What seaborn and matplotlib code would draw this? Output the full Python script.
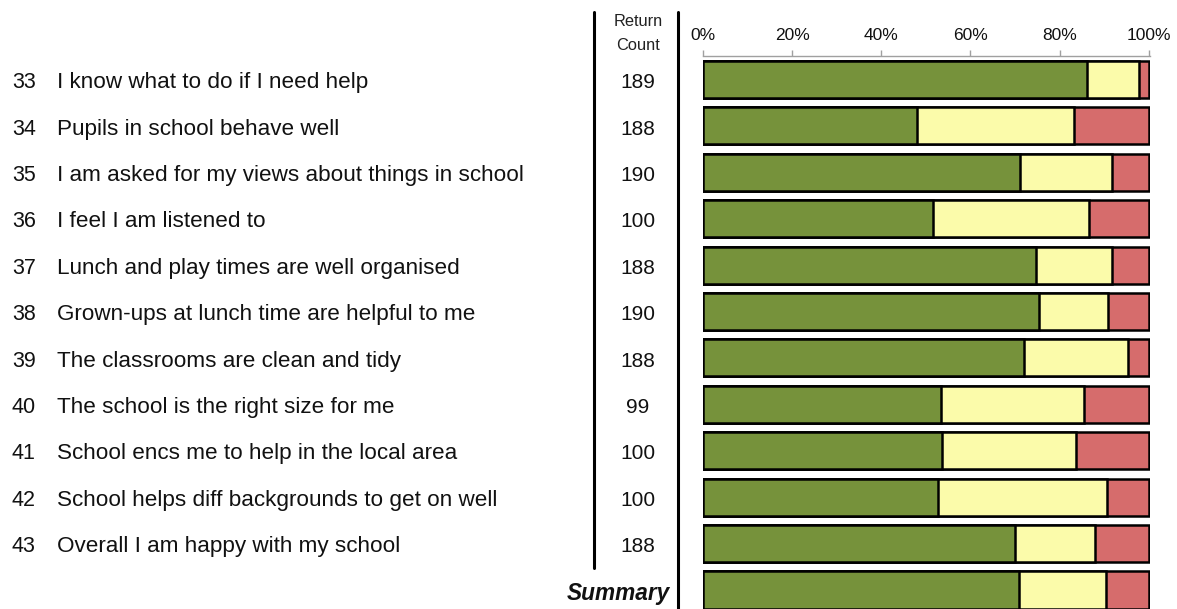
import matplotlib
matplotlib.use("Agg")
import matplotlib.pyplot as plt
import matplotlib.transforms as mtransforms
from matplotlib.lines import Line2D
import seaborn as sns
import pandas as pd
import numpy as np

numbers = ["33", "34", "35", "36", "37", "38", "39", "40", "41", "42", "43", ""]
questions = [
    "I know what to do if I need help",
    "Pupils in school behave well",
    "I am asked for my views about things in school",
    "I feel I am listened to",
    "Lunch and play times are well organised",
    "Grown-ups at lunch time are helpful to me",
    "The classrooms are clean and tidy",
    "The school is the right size for me",
    "School encs me to help in the local area",
    "School helps diff backgrounds to get on well",
    "Overall I am happy with my school",
    "Summary",
]
counts = ["189", "188", "190", "100", "188", "190", "188", "99", "100", "100", "188", ""]
green = [86.1, 48.1, 71.2, 51.7, 74.7, 75.5, 72.1, 53.3, 53.7, 52.7, 69.9, 71.0]
yellow = [11.7, 35.1, 20.5, 34.9, 17.0, 15.3, 23.3, 32.2, 30.0, 37.9, 18.0, 19.5]
red = [2.2, 16.8, 8.3, 13.4, 8.3, 9.2, 4.6, 14.5, 16.3, 9.4, 12.1, 9.5]
tick_vals = [0, 20, 40, 60, 80, 100]
tick_labels = ["0%", "20%", "40%", "60%", "80%", "100%"]

GREEN = "#76923B"
YELLOW = "#FBFBAA"
RED = "#D66C6C"

sns.set_theme(style="white")
plt.rcParams['font.family'] = ['Liberation Sans', 'DejaVu Sans']

W, H = 1177, 609
fig = plt.figure(figsize=(W / 100, H / 100), dpi=100)
ax = fig.add_axes([703 / W, 0, 447 / W, 553 / H])

df = pd.DataFrame({
    "q": questions,
    "g": green,
    "gy": np.array(green) + np.array(yellow),
    "all": np.array(green) + np.array(yellow) + np.array(red),
})

kw = dict(y="q", orient="h", width=0.8, edgecolor="black", linewidth=1.8,
          order=questions, ax=ax)
sns.barplot(data=df, x="all", color=RED, saturation=1, **kw)
sns.barplot(data=df, x="gy", color=YELLOW, saturation=1, **kw)
sns.barplot(data=df, x="g", color=GREEN, saturation=1, **kw)

n = len(questions)
ax.set_xlim(0, 100.3)
ax.set_ylim(11.41, -0.506)
ax.set_xlabel("")
ax.set_ylabel("")
ax.set_yticks([])
ax.xaxis.tick_top()
ax.set_xticks(tick_vals)
ax.set_xticklabels(tick_labels, fontsize=12.5, color="#111111")
ax.tick_params(axis="x", direction="out", length=4, width=1, color="#A0A0A0", pad=5)
for s in ["bottom", "left", "right"]:
    ax.spines[s].set_visible(False)
ax.spines["top"].set_color("#A0A0A0")
ax.spines["top"].set_linewidth(1)

dy = 0.07
trans = mtransforms.blended_transform_factory(fig.transFigure, ax.transData)
for i in range(n):
    if i < n - 1:
        ax.text(12 / W, i + dy, numbers[i], transform=trans, ha="left", va="center",
                fontsize=15.5, color="#111111", clip_on=False)
        ax.text(57 / W, i + dy, questions[i], transform=trans, ha="left", va="center",
                fontsize=16.2, color="#111111", clip_on=False)
        ax.text(638 / W, i + dy, counts[i], transform=trans, ha="center", va="center",
                fontsize=15, color="#111111", clip_on=False)
    else:
        ax.text(670 / W, i + dy, questions[i], transform=trans, ha="right", va="center",
                fontsize=16.3, fontweight="bold", fontstyle="italic", color="#111111",
                clip_on=False)

fig.text(638 / W, 1 - 22 / H, "Return", ha="center", va="center", fontsize=11.8, color="#222222")
fig.text(638 / W, 1 - 46 / H, "Count", ha="center", va="center", fontsize=11.8, color="#222222")

fig.add_artist(Line2D([593.5 / W, 593.5 / W], [1 - 12 / H, 1 - 568 / H],
                      transform=fig.transFigure, color="black", linewidth=2.2))
fig.add_artist(Line2D([678 / W, 678 / W], [1 - 12 / H, 0],
                      transform=fig.transFigure, color="black", linewidth=2.2))

fig.savefig("out.png", dpi=100, facecolor="white")
